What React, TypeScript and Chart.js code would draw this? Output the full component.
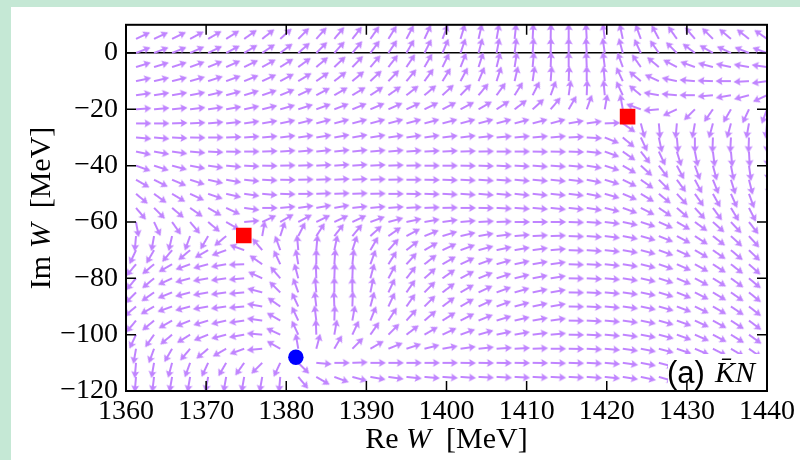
import React, { useEffect, useRef } from "react";
import { Chart, registerables } from "chart.js";

Chart.register(...registerables);

// Grid of arrow tails (Re W, Im W) in MeV
const reGrid = [
  1361.25, 1363.5, 1365.75, 1368, 1370.25, 1372.5, 1374.75, 1377, 1379.25, 1381.5, 1383.75, 1386,
  1388.25, 1390.5, 1392.75, 1395, 1397.25, 1399.5, 1401.75, 1404, 1406.25, 1408.5, 1410.75, 1413,
  1415.25, 1417.5, 1419.75, 1422, 1424.25, 1426.5, 1428.75, 1431, 1433.25, 1435.5, 1437.75, 1440,
];
const imGrid = [5, 0, -5, -10, -15, -20, -25, -30, -35, -40, -45, -50, -55, -60, -65, -70, -75, -80, -85, -90, -95, -100, -105, -110, -115];

// Arrow directions (degrees, counter-clockwise from +Re), one row per Im value
const angIm5 = [25, 25, 26, 28, 30, 32, 35, 38, 42, 45, 48, 50, 52, 55, 58, 62, 65, 69, 73, 77, 80, 84, 87, 89, 90, 93, 97, 102, 110, 118, 125, 130, 135, 140, 142, 145];
const angIm0 = [21, 21, 22, 24, 26, 28, 31, 34, 37, 41, 45, 48, 50, 53, 56, 60, 63, 67, 71, 75, 79, 83, 86, 89, 90, 93, 98, 105, 115, 125, 135, 143, 150, 155, 158, 160];
const angImM5 = [17, 17, 18, 20, 22, 24, 26, 29, 32, 36, 40, 43, 46, 49, 52, 56, 60, 64, 68, 72, 76, 81, 85, 88, 90, 92, 97, 110, 125, 140, 152, 160, 165, 168, 170, 172];
const angImM10 = [12, 13, 14, 16, 18, 20, 22, 25, 28, 31, 35, 38, 40, 43, 46, 50, 54, 58, 62, 67, 72, 77, 82, 86, 88, 90, 95, 115, 140, 155, 168, 175, 178, 180, 183, 188];
const angImM15 = [8, 9, 10, 11, 13, 15, 17, 19, 22, 25, 28, 30, 31, 33, 35, 38, 40, 43, 46, 50, 54, 58, 63, 70, 82, 88, 95, 115, 140, 170, 175, 180, 185, 190, 195, 205];
const angImM20 = [4, 5, 6, 7, 8, 10, 12, 14, 16, 18, 20, 21, 22, 23, 24, 25, 26, 27, 28, 30, 33, 37, 42, 50, 60, 70, 80, 100, 160, 185, 205, 225, 235, 240, 245, 250];
const angImM25 = [0, 0, 2, 3, 5, 6, 8, 10, 12, 14, 15, 15, 15, 15, 15, 15, 15, 15, 15, 15, 15, 15, 15, 15, 10, 8, 2, -35, -75, -85, -95, -100, -105, -105, -100, -95];
const angImM30 = [-5, -5, -3, -1, 0, 2, 4, 5, 7, 8, 9, 10, 10, 9, 8, 8, 8, 7, 7, 6, 5, 5, 5, 5, 3, -3, -22, -40, -65, -78, -85, -90, -92, -93, -92, -90];
const angImM35 = [-12, -10, -8, -5, -3, -1, 0, 2, 4, 5, 6, 6, 6, 5, 5, 4, 3, 3, 2, 1, 0, 0, -1, -1, -2, -6, -20, -35, -52, -65, -73, -79, -83, -85, -87, -87];
const angImM40 = [-20, -18, -15, -11, -8, -5, -3, -1, 1, 2, 3, 4, 4, 3, 2, 1, 0, 0, -1, -2, -3, -3, -4, -4, -5, -9, -18, -30, -42, -53, -62, -70, -75, -79, -82, -84];
const angImM45 = [-30, -27, -23, -18, -13, -10, -6, -3, -1, 1, 2, 3, 3, 2, 1, 0, -1, -2, -3, -4, -4, -5, -5, -6, -7, -11, -17, -26, -35, -45, -54, -62, -68, -73, -76, -79];
const angImM50 = [-40, -36, -31, -25, -19, -13, -8, -5, -2, 0, 2, 2, 2, 1, 0, -1, -2, -3, -4, -5, -5, -6, -6, -6, -7, -11, -16, -23, -31, -39, -47, -55, -61, -66, -70, -73];
const angImM55 = [-50, -45, -40, -35, -30, -25, -8, 0, 5, 8, 10, 10, 6, 5, 4, 3, 2, 1, 0, -1, -3, -4, -5, -6, -6, -9, -14, -20, -27, -34, -41, -48, -54, -59, -63, -66];
const angImM60 = [-80, -65, -55, -50, -40, -30, 5, 25, 30, 28, 26, 25, 25, 20, 15, 12, 10, 8, 5, 3, 2, 0, 0, 0, -2, -4, -7, -12, -18, -24, -30, -36, -42, -47, -52, -56];
const angImM65 = [-95, -100, -103, -110, -120, -140, null, 80, 72, 63, 57, 52, 50, 42, 35, 28, 22, 17, 13, 10, 7, 5, 3, 2, -2, -4, -7, -11, -16, -22, -28, -33, -38, -43, -48, -52];
const angImM70 = [-115, -120, -130, -140, -150, -160, 160, 130, 110, 95, 85, 78, 72, 60, 48, 38, 30, 25, 20, 15, 12, 10, 8, 5, -2, -4, -6, -10, -15, -20, -25, -30, -35, -40, -44, -48];
const angImM75 = [-130, -140, -150, -160, -165, -170, -178, 145, 115, 100, 90, 86, 84, 70, 58, 48, 38, 30, 25, 20, 16, 12, 10, 8, -2, -3, -6, -9, -14, -19, -24, -29, -33, -38, -42, -46];
const angImM80 = [-130, -140, -155, -165, -170, -172, -175, 155, 130, 105, 92, 88, 88, 75, 62, 52, 42, 35, 28, 22, 18, 14, 11, 9, -1, -3, -5, -9, -13, -18, -23, -28, -32, -36, -40, -44];
const angImM85 = [-135, -145, -158, -165, -170, -172, -175, 165, 135, 110, 95, 90, 90, 78, 65, 55, 45, 37, 30, 25, 20, 16, 12, 10, -1, -3, -5, -8, -12, -17, -22, -27, -31, -35, -39, -42];
const angImM90 = [-140, -150, -160, -165, -170, -172, -175, 170, 145, 115, 97, 92, 88, 75, 65, 55, 45, 37, 30, 25, 20, 15, 12, 10, -1, -3, -5, -8, -12, -16, -21, -26, -30, -34, -38, -41];
const angImM95 = [-130, -140, -150, -158, -163, -167, -172, 172, 150, 115, 97, 88, 80, 68, 57, 48, 40, 32, 27, 22, 17, 13, 10, 8, -1, -3, -5, -8, -12, -16, -20, -25, -29, -33, -37, -40];
const angImM100 = [-115, -125, -140, -148, -158, -165, -170, 175, 155, 115, 92, 80, 65, 55, 45, 37, 30, 25, 20, 16, 12, 10, 7, 5, -1, -3, -5, -8, -11, -15, -20, -24, -28, -32, -36, -39];
const angImM105 = [-100, -110, -120, -130, -140, -150, -160, -175, 150, 100, 75, 60, 45, 30, 22, 18, 14, 10, 8, 6, 4, 3, 2, 0, -1, -3, -5, -8, -11, -15, -19, -23, -27, -31, -35, -38];
const angImM110 = [-95, -100, -105, -110, -115, -120, -125, -135, -115, -45, -5, 0, 2, 0, 0, 0, 0, 0, -1, -1, -1, -1, -1, -2, -2, -3, -5, -8, -11, -15, -19, -23, -27, -31, -35, -38];
const angImM115 = [-95, -97, -100, -100, -100, -100, -100, -100, -95, -50, -30, -20, -15, -10, -8, -6, -5, -4, -4, -3, -3, -3, -3, -3, -3, -4, -6, -9, -12, -16, -20, -24, -28, -32, -35, -38];

const angleRows = [
  angIm5, angIm0, angImM5, angImM10, angImM15, angImM20, angImM25, angImM30, angImM35, angImM40,
  angImM45, angImM50, angImM55, angImM60, angImM65, angImM70, angImM75, angImM80, angImM85, angImM90,
  angImM95, angImM100, angImM105, angImM110, angImM115,
];

// Poles (red squares) and zero (blue circle)
const polesRe = [1374.7, 1422.6];
const polesIm = [-64.8, -22.6];
const zerosRe = [1381.2];
const zerosIm = [-108.0];

const xTicks = [1360, 1370, 1380, 1390, 1400, 1410, 1420, 1430, 1440];
const yTicks = [-120, -100, -80, -60, -40, -20, 0];

const ARROW_COLOR = "rgb(192,132,255)";
const SERIF = "'Liberation Serif', 'DejaVu Serif', serif";

function makeArrow(color: string): HTMLCanvasElement {
  const S = 18;
  const L = 15.5;
  const c = document.createElement("canvas");
  c.width = 2 * S;
  c.height = 2 * S;
  const g = c.getContext("2d")!;
  g.fillStyle = color;
  const cx = S, cy = S;
  const sw = 2.2, hl = 7, hal = 6, hw = 8;
  g.beginPath();
  g.moveTo(cx, cy - sw / 2);
  g.lineTo(cx + L - hal, cy - sw / 2);
  g.lineTo(cx + L - hl, cy - hw / 2);
  g.lineTo(cx + L, cy);
  g.lineTo(cx + L - hl, cy + hw / 2);
  g.lineTo(cx + L - hal, cy + sw / 2);
  g.lineTo(cx, cy + sw / 2);
  g.closePath();
  g.fill();
  return c;
}

const fmt = (v: number) => (v < 0 ? "\u2212" + Math.abs(v) : String(v));

function drawMixed(ctx: CanvasRenderingContext2D, parts: [string, boolean][], size: number, cx: number, cy: number) {
  const fonts = parts.map(([, it]) => `${it ? "italic " : ""}${size}px ${SERIF}`);
  let total = 0;
  const widths = parts.map(([t], i) => {
    ctx.font = fonts[i];
    const w = ctx.measureText(t).width;
    total += w;
    return w;
  });
  let x = cx - total / 2;
  ctx.textBaseline = "middle";
  ctx.textAlign = "left";
  parts.forEach(([t], i) => {
    ctx.font = fonts[i];
    ctx.fillText(t, x, cy);
    x += widths[i];
  });
}

const decorPlugin = {
  id: "decor",
  beforeDraw(chart: any) {
    const ctx = chart.ctx as CanvasRenderingContext2D;
    ctx.save();
    ctx.fillStyle = "#ffffff";
    ctx.fillRect(0, 0, chart.width, chart.height);
    ctx.fillStyle = "#c5e8d5";
    ctx.fillRect(0, 0, 11, chart.height);
    ctx.fillRect(0, 0, chart.width, 7);
    ctx.restore();
  },
  afterDraw(chart: any) {
    const ctx = chart.ctx as CanvasRenderingContext2D;
    const a = chart.chartArea;
    const xs = chart.scales.x;
    const ys = chart.scales.y;
    ctx.save();
    // label box
    ctx.fillStyle = "#ffffff";
    ctx.fillRect(668, 354, a.right - 668, a.bottom - 354);
    ctx.fillStyle = "#000";
    ctx.textBaseline = "alphabetic";
    ctx.textAlign = "left";
    ctx.font = "31px 'Liberation Sans', Arial, sans-serif";
    ctx.fillText("(a)", 667, 383);
    ctx.font = `italic 30px ${SERIF}`;
    ctx.fillText("K\u0304N", 715, 382);
    // frame
    ctx.strokeStyle = "#000";
    ctx.lineWidth = 2;
    ctx.strokeRect(a.left, a.top, a.right - a.left, a.bottom - a.top);
    // inward ticks
    ctx.lineWidth = 1.5;
    ctx.beginPath();
    xTicks.forEach((v) => {
      const px = xs.getPixelForValue(v);
      ctx.moveTo(px, a.bottom);
      ctx.lineTo(px, a.bottom - 10);
      ctx.moveTo(px, a.top);
      ctx.lineTo(px, a.top + 10);
    });
    yTicks.forEach((v) => {
      const py = ys.getPixelForValue(v);
      ctx.moveTo(a.left, py);
      ctx.lineTo(a.left + 10, py);
      ctx.moveTo(a.right, py);
      ctx.lineTo(a.right - 10, py);
    });
    ctx.stroke();
    // axis titles
    ctx.fillStyle = "#000";
    drawMixed(ctx, [["Re ", false], ["W", true], ["  [MeV]", false]], 30, (a.left + a.right) / 2, 440);
    ctx.translate(42, (a.top + a.bottom) / 2);
    ctx.rotate(-Math.PI / 2);
    drawMixed(ctx, [["Im ", false], ["W", true], ["  [MeV]", false]], 30, 0, 0);
    ctx.restore();
  },
};

export default function App() {
  const ref = useRef<HTMLCanvasElement | null>(null);
  useEffect(() => {
    document.body.style.margin = "0";
    const arrow = makeArrow(ARROW_COLOR);
    const pts: any[] = [];
    angleRows.forEach((row, k) => {
      row.forEach((a, c) => {
        if (a === null || a === undefined) return;
        pts.push({ x: reGrid[c], y: imGrid[k], a });
      });
    });
    const chart = new Chart(ref.current!, {
      type: "scatter",
      data: {
        datasets: [
          {
            label: "zero",
            data: zerosRe.map((x, i) => ({ x, y: zerosIm[i] })),
            pointStyle: "circle",
            pointRadius: 7.7,
            backgroundColor: "#0000ff",
            borderWidth: 0,
            order: 0,
          } as any,
          {
            label: "poles",
            data: polesRe.map((x, i) => ({ x, y: polesIm[i] })),
            pointStyle: "rect",
            pointRadius: 11,
            backgroundColor: "#ff0000",
            borderWidth: 0,
            order: 1,
          } as any,
          {
            label: "field",
            data: pts,
            pointStyle: arrow,
            pointRadius: 8,
            pointRotation: (c: any) => (c.raw ? -c.raw.a : 0),
            order: 5,
            clip: 0,
          } as any,
        ],
      },
      options: {
        responsive: false,
        animation: false,
        events: [],
        layout: { padding: { top: 20, right: 33, left: 0, bottom: 0 } },
        plugins: { legend: { display: false }, tooltip: { enabled: false } },
        scales: {
          x: {
            type: "linear",
            min: 1360,
            max: 1440,
            afterFit: (s: any) => {
              s.height = 69;
            },
            afterBuildTicks: (s: any) => {
              s.ticks = xTicks.map((v) => ({ value: v }));
            },
            ticks: {
              callback: (v: any) => String(v),
              font: { family: SERIF, size: 28 },
              color: "#000",
              padding: 4,
              maxRotation: 0,
              autoSkip: false,
            },
            grid: { display: false, drawTicks: false },
            border: { display: false },
          },
          y: {
            type: "linear",
            min: -120,
            max: 10,
            afterFit: (s: any) => {
              s.width = 126;
            },
            afterBuildTicks: (s: any) => {
              s.ticks = yTicks.map((v) => ({ value: v }));
            },
            ticks: {
              callback: (v: any) => fmt(Number(v)),
              font: { family: SERIF, size: 28 },
              color: "#000",
              padding: 8,
              autoSkip: false,
            },
            grid: {
              drawTicks: false,
              color: (c: any) => (c.tick && c.tick.value === 0 ? "#000" : "rgba(0,0,0,0)"),
              lineWidth: 1.5,
            },
            border: { display: false },
          },
        },
      },
      plugins: [decorPlugin],
    } as any);
    return () => chart.destroy();
  }, []);
  return (
    <div style={{ position: "fixed", left: 0, top: 0, width: 800, height: 460 }}>
      <canvas ref={ref} width={800} height={460} />
    </div>
  );
}
